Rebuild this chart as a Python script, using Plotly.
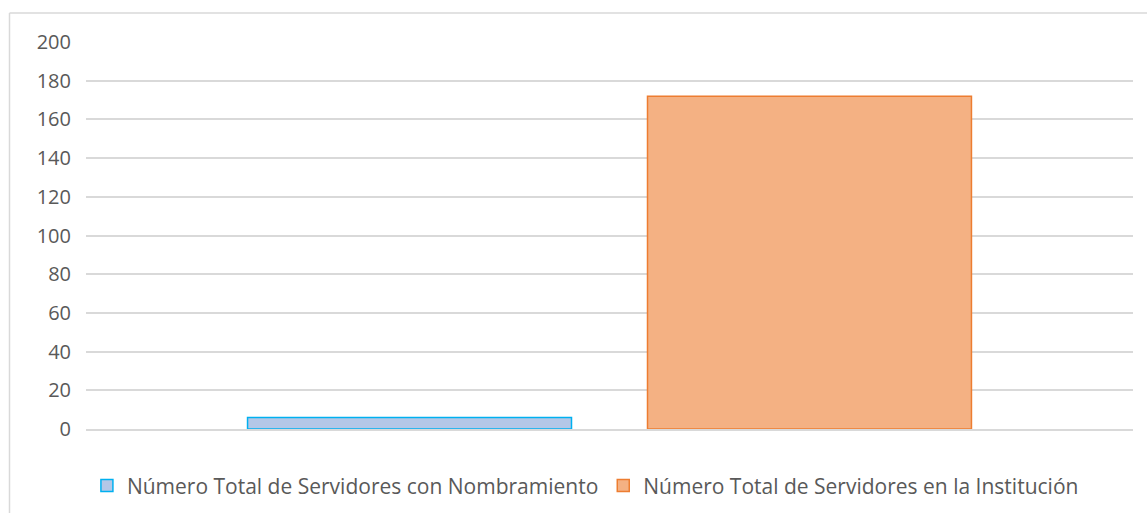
import plotly.graph_objects as go

categories = [""]
series_names = ["Número Total de Servidores con Nombramiento",
                "Número Total de Servidores en la Institución"]
series_values = [[6], [172]]
fill_colors = ["#B4C7E7", "#F4B183"]
line_colors = ["#00B0F0", "#ED7D31"]
y_ticks = [0, 20, 40, 60, 80, 100, 120, 140, 160, 180, 200]

fig = go.Figure()
for name, vals, fc, lc in zip(series_names, series_values, fill_colors, line_colors):
    fig.add_trace(go.Bar(
        x=categories, y=vals, name=name,
        marker=dict(color=fc, line=dict(color=lc, width=1.5)),
    ))

FONT = "Open Sans"
FS = 21
fig.update_layout(
    width=1147, height=513,
    margin=dict(l=86, r=14, t=42, b=84, autoexpand=False),
    paper_bgcolor="white", plot_bgcolor="white",
    barmode="group", bargap=0.236, bargroupgap=0.19,
    font=dict(family=FONT, size=FS, color="#595959"),
    showlegend=True,
    legend=dict(orientation="h", x=0.477, xanchor="center", y=-0.147, yanchor="middle",
                font=dict(family=FONT, size=FS, color="#595959"),
                tracegroupgap=0, itemwidth=30),
    xaxis=dict(showticklabels=False, showgrid=False, zeroline=False,
               showline=True, linecolor="#D9D9D9", linewidth=1.5),
    yaxis=dict(range=[0, 200], tickvals=y_ticks, showgrid=True, gridcolor="#D9D9D9",
               gridwidth=1.5, zeroline=False, showline=False, ticks="",
               ticklabelstandoff=14,
               tickfont=dict(family=FONT, size=FS - 1, color="#595959")),
    shapes=[
        dict(type="line", xref="paper", yref="paper",
             x0=(9.5 - 86) / 1047, x1=(1150 - 86) / 1047,
             y0=(429 - 13) / 387, y1=(429 - 13) / 387,
             line=dict(color="#D9D9D9", width=1.5)),
        dict(type="line", xref="paper", yref="paper",
             x0=(9.5 - 86) / 1047, x1=(9.5 - 86) / 1047,
             y0=(429 - 13) / 387, y1=(429 - 520) / 387,
             line=dict(color="#D9D9D9", width=1.5)),
    ],
)

fig.write_html("out.html", config={"displayModeBar": False},
               post_script="document.body.style.margin='0';document.body.style.overflow='hidden';")
